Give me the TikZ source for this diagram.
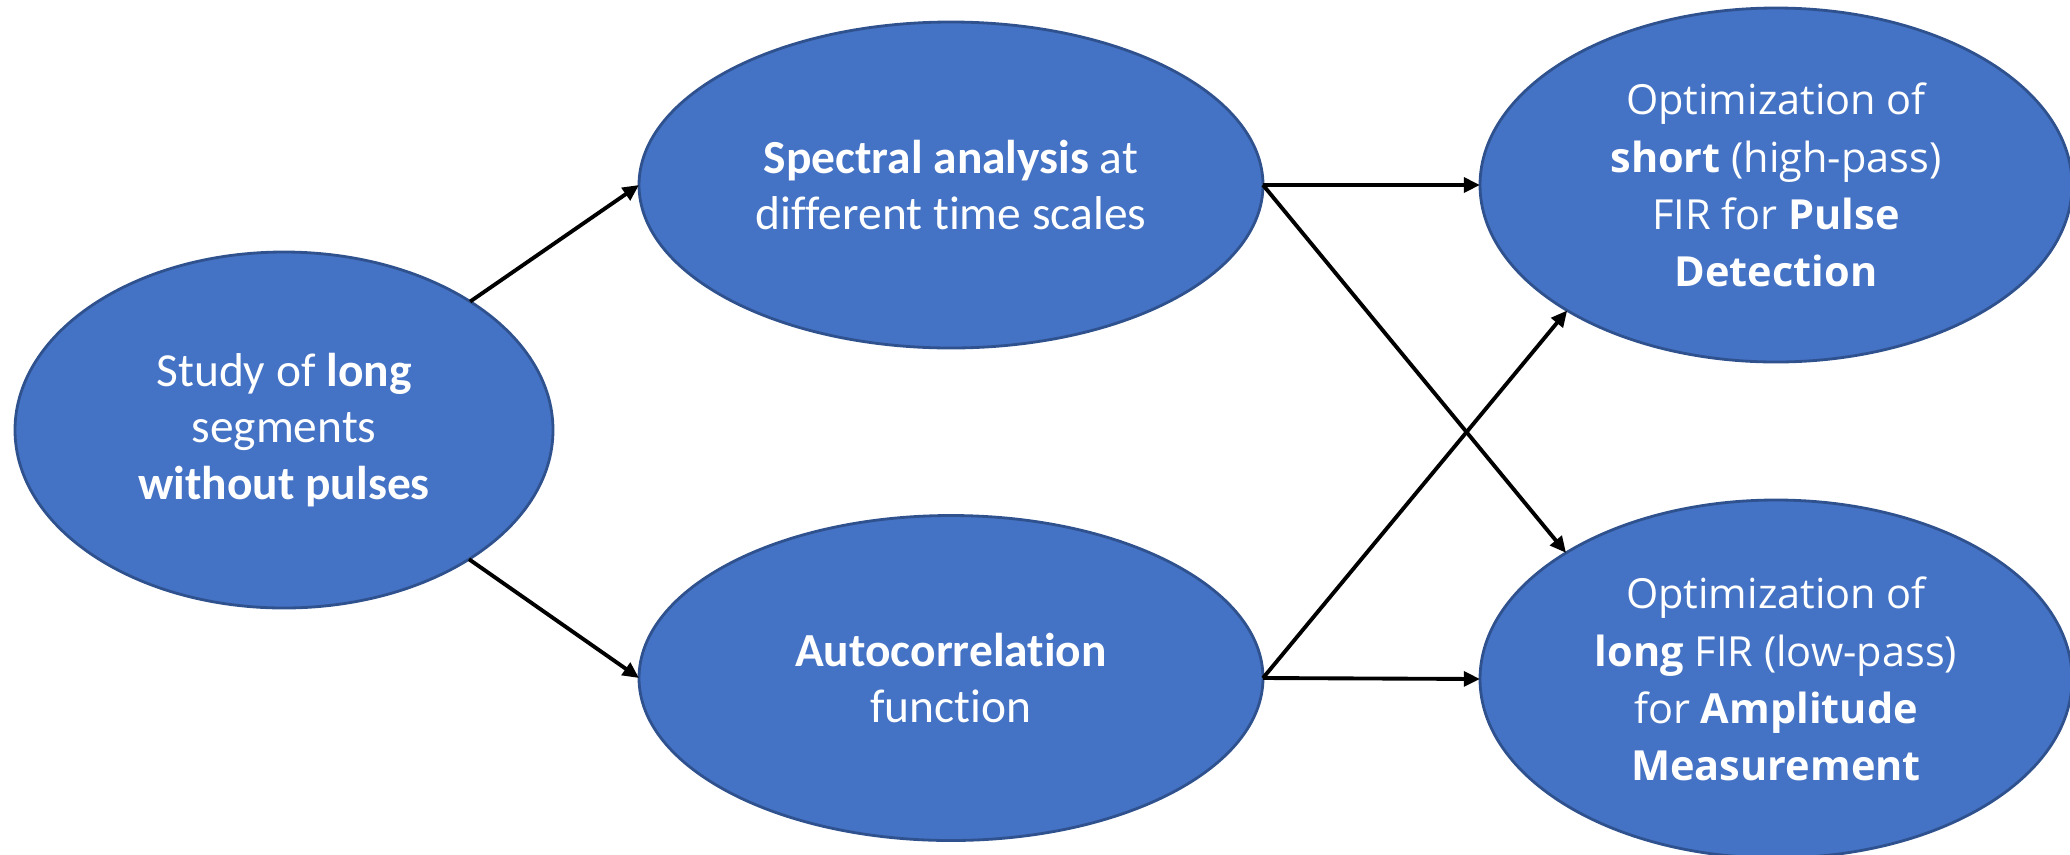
\documentclass[tikz,border=0pt]{standalone}
\usepackage{fontspec}
\setmainfont{Carlito}[RawFeature={-liga}]
\newfontfamily\opensans{Open Sans}
\usepackage{tikz}
\usetikzlibrary{positioning,arrows.meta,shapes.geometric}
\definecolor{officeblue}{HTML}{4472C4}
\definecolor{officeedge}{HTML}{2F528F}

\begin{document}
\begin{tikzpicture}[
    blob/.style={ellipse,fill=officeblue,draw=officeedge,line width=0.8pt,
      text=white,align=center,inner sep=0pt,outer sep=0pt,
      font=\fontsize{13.5}{16.1}\selectfont},
    wideblob/.style={blob,font=\opensans\fontsize{11.8}{16.3}\selectfont},
    link/.style={-{Triangle[length=4.6pt,width=4.2pt]},line width=1.1pt,black}
  ]
  % frame, 1 px of the original = 0.01 cm
  \clip (0,0) rectangle (20.70,-8.54);
  % nodes
  \node[blob,minimum width=5.38cm,minimum height=3.56cm] (study) at (2.84,-4.30)
    {Study of \textbf{long}\\segments\\\textbf{without pulses}};
  \node[blob,minimum width=6.24cm,minimum height=3.26cm] (spectral) at (9.51,-1.85)
    {\textbf{Spectral analysis} at\\different time scales};
  \node[blob,minimum width=6.24cm,minimum height=3.25cm] (autocorr) at (9.51,-6.78)
    {\textbf{Autocorrelation}\\function};
  \node[wideblob,minimum width=5.92cm,minimum height=3.54cm] (pulse) at (17.76,-1.85)
    {Optimization of\\\textbf{short} (high-pass)\\FIR for \textbf{Pulse}\\\textbf{Detection}};
  \node[wideblob,minimum width=5.92cm,minimum height=3.58cm] (ampl) at (17.76,-6.79)
    {Optimization of\\\textbf{long} FIR (low-pass)\\for \textbf{Amplitude}\\\textbf{Measurement}};
  % arrows
  \draw[link] (study) -- (spectral.west);
  \draw[link] (study) -- (autocorr.west);
  \draw[link] (spectral.east) -- (pulse.west);
  \draw[link] (spectral.east) -- (ampl.149);
  \draw[link] (autocorr.east) -- (pulse.211);
  \draw[link] (autocorr.east) -- (ampl.west);
\end{tikzpicture}
\end{document}
